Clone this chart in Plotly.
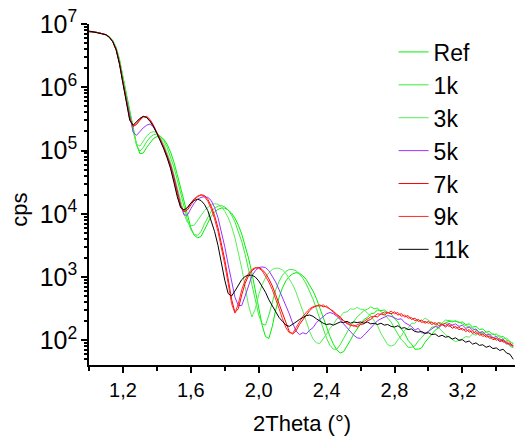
import plotly.graph_objects as go

# 2Theta sampling grid (degrees), step 0.02 from 1.00 to 3.50
x_deg = [round(1.0 + 0.02 * i, 2) for i in range(126)]

# log10(cps) values, one list per sample
ref_log = [
    6.88, 6.88, 6.87, 6.86, 6.85, 6.83, 6.80, 6.74, 6.63, 6.44,
    6.17, 5.90, 5.62, 5.34, 5.10, 4.95, 4.96, 5.05, 5.13, 5.19,
    5.22, 5.22, 5.18, 5.10, 4.98, 4.82, 4.62, 4.40, 4.17, 3.95,
    3.78, 3.66, 3.62, 3.64, 3.74, 3.86, 3.96, 4.03, 4.07, 4.09,
    4.09, 4.06, 4.01, 3.93, 3.82, 3.68, 3.51, 3.30, 3.06, 2.78,
    2.50, 2.24, 2.06, 2.03, 2.22, 2.48, 2.68, 2.83, 2.94, 3.01,
    3.05, 3.07, 3.06, 3.02, 2.96, 2.88, 2.78, 2.66, 2.52, 2.37,
    2.21, 2.06, 1.94, 1.85, 1.80, 1.82, 1.90, 2.00, 2.10, 2.19,
    2.26, 2.33, 2.36, 2.42, 2.43, 2.48, 2.47, 2.48, 2.44, 2.42,
    2.34, 2.29, 2.18, 2.11, 2.00, 1.94, 1.86, 1.86, 1.88, 1.97,
    2.03, 2.10, 2.16, 2.20, 2.25, 2.27, 2.30, 2.29, 2.31, 2.28,
    2.29, 2.25, 2.26, 2.21, 2.22, 2.17, 2.18, 2.13, 2.14, 2.09,
    2.10, 2.05, 2.06, 2.01, 1.98, 1.95,
]

k1_log = [
    6.88, 6.88, 6.87, 6.86, 6.85, 6.83, 6.80, 6.73, 6.62, 6.42,
    6.15, 5.88, 5.60, 5.32, 5.08, 4.99, 5.05, 5.14, 5.21, 5.25,
    5.26, 5.23, 5.16, 5.05, 4.91, 4.74, 4.54, 4.32, 4.10, 3.90,
    3.75, 3.67, 3.66, 3.72, 3.84, 3.95, 4.04, 4.09, 4.12, 4.13,
    4.11, 4.06, 3.98, 3.87, 3.73, 3.56, 3.36, 3.12, 2.86, 2.60,
    2.40, 2.26, 2.24, 2.40, 2.62, 2.80, 2.93, 3.03, 3.09, 3.12,
    3.12, 3.10, 3.05, 2.98, 2.89, 2.78, 2.65, 2.50, 2.34, 2.18,
    2.03, 1.92, 1.86, 1.86, 1.93, 2.03, 2.13, 2.22, 2.30, 2.37,
    2.42, 2.47, 2.49, 2.53, 2.50, 2.51, 2.45, 2.43, 2.35, 2.29,
    2.19, 2.11, 2.01, 1.96, 1.89, 1.89, 1.91, 1.99, 2.04, 2.11,
    2.14, 2.21, 2.21, 2.28, 2.27, 2.32, 2.31, 2.31, 2.30, 2.29,
    2.26, 2.23, 2.22, 2.19, 2.15, 2.13, 2.12, 2.09, 2.05, 2.04,
    2.03, 2.00, 1.99, 1.96, 1.91, 1.88,
]

k3_log = [
    6.88, 6.88, 6.87, 6.86, 6.85, 6.83, 6.80, 6.73, 6.62, 6.42,
    6.14, 5.87, 5.58, 5.30, 5.10, 5.07, 5.15, 5.23, 5.28, 5.30,
    5.28, 5.21, 5.11, 4.98, 4.82, 4.63, 4.42, 4.20, 4.00, 3.86,
    3.81, 3.82, 3.90, 3.98, 4.05, 4.10, 4.14, 4.16, 4.15, 4.11,
    4.04, 3.94, 3.80, 3.62, 3.40, 3.14, 2.85, 2.55, 2.37, 2.50,
    2.72, 2.88, 2.99, 3.07, 3.12, 3.14, 3.14, 3.11, 3.06, 2.98,
    2.88, 2.76, 2.62, 2.46, 2.30, 2.14, 2.02, 1.96, 1.95, 2.02,
    2.10, 2.19, 2.25, 2.34, 2.37, 2.44, 2.45, 2.50, 2.49, 2.52,
    2.49, 2.49, 2.43, 2.39, 2.30, 2.23, 2.11, 2.03, 1.93, 1.91,
    1.93, 2.01, 2.07, 2.16, 2.19, 2.27, 2.27, 2.33, 2.30, 2.35,
    2.32, 2.29, 2.25, 2.20, 2.14, 2.09, 2.05, 2.01, 1.98, 2.00,
    2.02, 2.06, 2.05, 2.10, 2.08, 2.12, 2.10, 2.13, 2.09, 2.11,
    2.06, 2.08, 2.02, 2.04, 1.98, 1.95,
]

k5_log = [
    6.88, 6.88, 6.87, 6.86, 6.85, 6.83, 6.79, 6.72, 6.60, 6.38,
    6.09, 5.81, 5.52, 5.29, 5.24, 5.30, 5.36, 5.40, 5.42, 5.37,
    5.28, 5.18, 5.06, 4.93, 4.78, 4.59, 4.36, 4.14, 3.98, 3.98,
    4.08, 4.17, 4.23, 4.26, 4.27, 4.26, 4.21, 4.10, 3.94, 3.73,
    3.48, 3.20, 2.92, 2.68, 2.55, 2.55, 2.70, 2.88, 3.02, 3.10,
    3.15, 3.16, 3.15, 3.10, 3.02, 2.92, 2.80, 2.68, 2.56, 2.42,
    2.27, 2.15, 2.09, 2.12, 2.10, 2.16, 2.20, 2.28, 2.33, 2.38,
    2.42, 2.44, 2.42, 2.38, 2.33, 2.26, 2.20, 2.14, 2.08, 2.04,
    2.03, 2.08, 2.14, 2.20, 2.26, 2.31, 2.34, 2.37, 2.39, 2.38,
    2.36, 2.33, 2.34, 2.28, 2.25, 2.22, 2.16, 2.19, 2.12, 2.11,
    2.14, 2.18, 2.22, 2.20, 2.25, 2.23, 2.27, 2.24, 2.26, 2.22,
    2.24, 2.19, 2.21, 2.16, 2.18, 2.12, 2.14, 2.08, 2.10, 2.04,
    2.06, 2.00, 2.02, 1.96, 1.93, 1.92,
]

k7_log = [
    6.88, 6.88, 6.87, 6.86, 6.85, 6.83, 6.79, 6.72, 6.60, 6.38,
    6.08, 5.80, 5.51, 5.38, 5.41, 5.48, 5.53, 5.54, 5.49, 5.40,
    5.29, 5.18, 5.06, 4.92, 4.77, 4.57, 4.33, 4.13, 4.03, 4.06,
    4.14, 4.22, 4.27, 4.30, 4.29, 4.23, 4.12, 3.97, 3.78, 3.54,
    3.27, 2.97, 2.65, 2.44, 2.50, 2.72, 2.90, 3.02, 3.10, 3.14,
    3.15, 3.12, 3.06, 2.97, 2.86, 2.72, 2.57, 2.41, 2.26, 2.14,
    2.10, 2.15, 2.25, 2.33, 2.41, 2.47, 2.52, 2.54, 2.56, 2.53,
    2.54, 2.49, 2.46, 2.41, 2.37, 2.31, 2.28, 2.23, 2.24, 2.21,
    2.25, 2.26, 2.31, 2.33, 2.38, 2.37, 2.42, 2.40, 2.44, 2.42,
    2.45, 2.40, 2.42, 2.37, 2.39, 2.33, 2.35, 2.30, 2.32, 2.27,
    2.30, 2.25, 2.28, 2.23, 2.26, 2.21, 2.25, 2.19, 2.22, 2.17,
    2.19, 2.14, 2.17, 2.11, 2.14, 2.08, 2.10, 2.05, 2.07, 2.01,
    2.03, 1.98, 2.00, 1.94, 1.96, 1.91,
]

k9_log = [
    6.88, 6.88, 6.87, 6.86, 6.85, 6.83, 6.79, 6.72, 6.59, 6.37,
    6.07, 5.78, 5.49, 5.39, 5.43, 5.50, 5.54, 5.53, 5.47, 5.38,
    5.28, 5.17, 5.04, 4.90, 4.74, 4.53, 4.29, 4.10, 4.04, 4.09,
    4.17, 4.24, 4.28, 4.30, 4.27, 4.20, 4.08, 3.92, 3.72, 3.47,
    3.20, 2.90, 2.58, 2.43, 2.58, 2.80, 2.95, 3.06, 3.12, 3.15,
    3.14, 3.10, 3.02, 2.92, 2.80, 2.66, 2.50, 2.34, 2.20, 2.12,
    2.11, 2.20, 2.30, 2.38, 2.44, 2.50, 2.53, 2.55, 2.54, 2.56,
    2.52, 2.50, 2.44, 2.40, 2.34, 2.31, 2.26, 2.25, 2.22, 2.24,
    2.27, 2.30, 2.34, 2.37, 2.38, 2.42, 2.41, 2.45, 2.43, 2.46,
    2.42, 2.44, 2.38, 2.40, 2.35, 2.36, 2.31, 2.33, 2.28, 2.30,
    2.27, 2.29, 2.25, 2.28, 2.24, 2.27, 2.22, 2.24, 2.19, 2.21,
    2.16, 2.18, 2.13, 2.15, 2.10, 2.12, 2.06, 2.09, 2.03, 2.05,
    2.00, 2.03, 1.97, 1.99, 1.93, 1.90,
]

k11_log = [
    6.89, 6.88, 6.87, 6.86, 6.85, 6.83, 6.79, 6.72, 6.59, 6.36,
    6.06, 5.77, 5.48, 5.40, 5.45, 5.51, 5.54, 5.52, 5.46, 5.38,
    5.27, 5.16, 5.03, 4.89, 4.72, 4.50, 4.27, 4.10, 4.06, 4.10,
    4.17, 4.21, 4.23, 4.21, 4.15, 4.05, 3.90, 3.72, 3.50, 3.22,
    2.95, 2.74, 2.70, 2.78, 2.88, 2.96, 3.01, 3.03, 3.03, 3.00,
    2.94, 2.86, 2.76, 2.64, 2.54, 2.45, 2.36, 2.30, 2.24, 2.22,
    2.25, 2.29, 2.33, 2.36, 2.39, 2.40, 2.38, 2.34, 2.30, 2.27,
    2.25, 2.26, 2.24, 2.27, 2.29, 2.28, 2.30, 2.27, 2.29, 2.28,
    2.29, 2.27, 2.29, 2.26, 2.27, 2.25, 2.27, 2.24, 2.25, 2.22,
    2.21, 2.23, 2.19, 2.20, 2.17, 2.18, 2.14, 2.13, 2.14, 2.11,
    2.12, 2.09, 2.10, 2.06, 2.08, 2.05, 2.06, 2.02, 2.04, 2.00,
    2.01, 1.97, 1.99, 1.94, 1.96, 1.92, 1.93, 1.89, 1.91, 1.87,
    1.88, 1.84, 1.86, 1.80, 1.78, 1.70,
]

series_names = ["Ref", "1k", "3k", "5k", "7k", "9k", "11k"]
series_values = [ref_log, k1_log, k3_log, k5_log, k7_log, k9_log, k11_log]
series_colors = ["#00F000", "#33EE33", "#55F055", "#9933FF", "#FF0000", "#FF2A2A", "#000000"]

fig = go.Figure()
for name, vals, color in zip(series_names, series_values, series_colors):
    fig.add_trace(go.Scatter(
        x=x_deg, y=[10 ** v for v in vals], mode="lines", name=name,
        line=dict(color=color, width=1),
    ))

FONT = "Liberation Sans, Arial, sans-serif"
fig.update_layout(
    width=515, height=438,
    margin=dict(l=89, r=0, t=24, b=73),
    paper_bgcolor="white", plot_bgcolor="white",
    font=dict(family=FONT, size=20, color="black"),
    separators=", ",
    showlegend=True,
    legend=dict(x=0.715, y=0.981, xanchor="left", yanchor="top",
                bgcolor="rgba(0,0,0,0)", font=dict(size=23, family=FONT),
                itemwidth=30),
    annotations=[dict(text="cps", textangle=-90, xref="paper", yref="paper",
                      x=-0.162, y=0.455, xanchor="center", yanchor="middle",
                      showarrow=False, font=dict(size=22, family=FONT))],
)
fig.update_xaxes(
    automargin=False,
    range=[1.0, 3.51], tick0=1.2, dtick=0.4, tickformat=".1f",
    ticks="outside", ticklen=6, tickwidth=1.5, tickcolor="black",
    showline=True, linecolor="black", linewidth=1.5,
    showgrid=False, zeroline=False,
    minor=dict(ticks="outside", tick0=1.0, dtick=0.2, ticklen=4, tickcolor="black", showgrid=False),
    title=dict(text="2Theta (°)", font=dict(size=22, family=FONT), standoff=16),
)
fig.update_yaxes(
    automargin=False,
    type="log", range=[1.61, 7.0], dtick=1, exponentformat="power",
    ticks="outside", ticklen=6, tickwidth=1.5, tickcolor="black",
    showline=True, linecolor="black", linewidth=1.5,
    showgrid=False, zeroline=False,
    minor=dict(ticks="outside", dtick="D1", ticklen=3, tickcolor="black", showgrid=False),
)

fig.write_html("out.html", config={"displayModeBar": False},
               post_script="document.body.style.margin='0px';")
